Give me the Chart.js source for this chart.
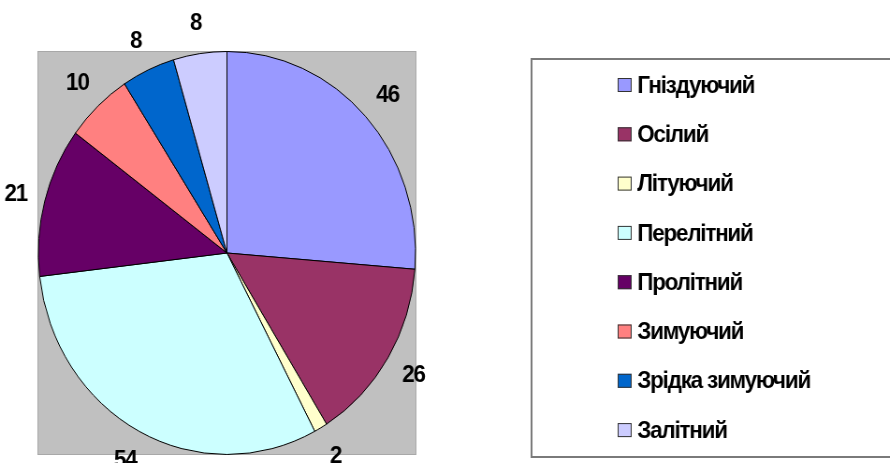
<!DOCTYPE html>
<html>
<head>
<meta charset="utf-8">
<script src="https://cdn.jsdelivr.net/npm/chart.js@4/dist/chart.umd.min.js"></script>
<style>
  html, body { margin: 0; padding: 0; background: #fff; overflow: hidden; }
  #wrap { width: 890px; height: 463px; overflow: hidden; position: relative; }
  #c { position: absolute; left: 0; top: 0; transform: scaleX(0.9358); transform-origin: 0 0; }
</style>
</head>
<body>
<div id="wrap"><canvas id="c" width="951" height="463"></canvas></div>
<script>
const categories = ["Гніздуючий", "Осілий", "Літуючий", "Перелітний", "Пролітний", "Зимуючий", "Зрідка зимуючий", "Залітний"];
const counts = [46, 26, 2, 54, 21, 10, 8, 8];
const sliceColors = ["#9999FF", "#993366", "#FFFFCC", "#CCFFFF", "#660066", "#FF8080", "#0066CC", "#CCCCFF"];

const FONT = "bold 24px 'Liberation Sans', Arial, sans-serif";

const plotBg = {
  id: 'plotBg',
  beforeDraw(chart) {
    const { ctx, chartArea: a } = chart;
    ctx.save();
    ctx.fillStyle = '#C0C0C0';
    ctx.fillRect(a.left, a.top, a.right - a.left, a.bottom - a.top);
    ctx.strokeStyle = '#A8A8A8';
    ctx.lineWidth = 1;
    ctx.strokeRect(a.left + 0.5, a.top + 0.5, a.right - a.left - 1, a.bottom - a.top - 1);
    ctx.restore();
  }
};

const sliceLabels = {
  id: 'sliceLabels',
  afterDatasetsDraw(chart) {
    const { ctx } = chart;
    const meta = chart.getDatasetMeta(0);
    ctx.save();
    ctx.font = FONT;
    ctx.fillStyle = '#000';
    ctx.textAlign = 'center';
    ctx.textBaseline = 'middle';
    try { ctx.letterSpacing = '-1.3px'; } catch (e) {}
    meta.data.forEach((arc, i) => {
      const p = arc.getProps(['x', 'y', 'startAngle', 'endAngle', 'outerRadius'], true);
      const mid = (p.startAngle + p.endAngle) / 2;
      const r = p.outerRadius + 32;
      ctx.fillText(String(chart.data.datasets[0].data[i]), p.x + Math.cos(mid) * r, p.y + Math.sin(mid) * r + 1);
    });
    ctx.restore();
  }
};

const boxLegend = {
  id: 'boxLegend',
  afterDraw(chart) {
    const { ctx } = chart;
    ctx.save();
    ctx.strokeStyle = '#7A7A7A';
    ctx.lineWidth = 2;
    ctx.strokeRect(568, 59, 400, 398);
    const labels = chart.data.labels;
    const colors = chart.data.datasets[0].backgroundColor;
    const y0 = 85, step = 49.3;
    ctx.font = FONT;
    ctx.textAlign = 'left';
    ctx.textBaseline = 'middle';
    try { ctx.letterSpacing = '-1.3px'; } catch (e) {}
    labels.forEach((lab, i) => {
      const y = y0 + i * step;
      ctx.fillStyle = colors[i];
      ctx.fillRect(660, y - 7, 15, 14);
      ctx.strokeStyle = '#333';
      ctx.lineWidth = 1;
      ctx.strokeRect(660.5, y - 6.5, 14, 13);
      ctx.fillStyle = '#000';
      ctx.fillText(lab, 681, y + 1);
    });
    ctx.restore();
  }
};

new Chart(document.getElementById('c'), {
  type: 'pie',
  data: {
    labels: categories,
    datasets: [{
      data: counts,
      backgroundColor: sliceColors,
      borderColor: '#000',
      borderWidth: 1
    }]
  },
  options: {
    responsive: false,
    animation: false,
    devicePixelRatio: 1,
    layout: { padding: { left: 40, top: 51, right: 506, bottom: 8 } },
    plugins: {
      legend: { display: false },
      tooltip: { enabled: false }
    }
  },
  plugins: [plotBg, sliceLabels, boxLegend]
});
</script>
</body>
</html>
